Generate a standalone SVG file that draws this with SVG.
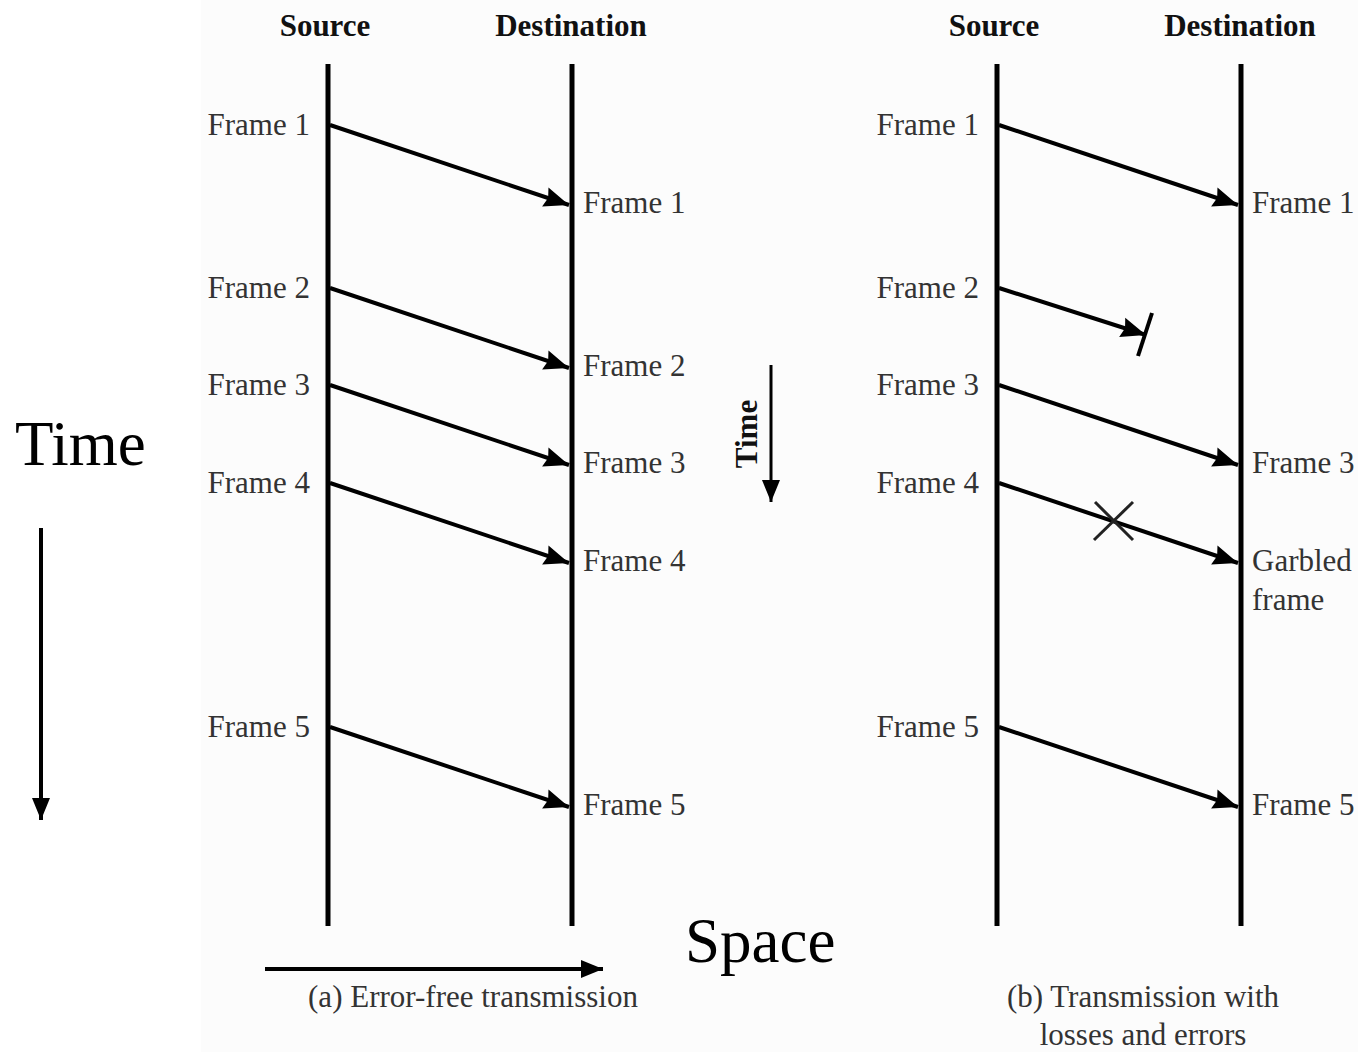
<svg xmlns="http://www.w3.org/2000/svg" width="1358" height="1052" viewBox="0 0 1358 1052">
<style>
.lbl{font-family:"Liberation Serif","Times New Roman",serif;font-size:31px;fill:#333}
.hdr{font-family:"Liberation Serif","Times New Roman",serif;font-size:31px;font-weight:bold;fill:#111}
.big{font-family:"Liberation Serif","Times New Roman",serif;font-size:63px;fill:#000}
.axis{stroke:#000;stroke-width:5;fill:none}
.arr{stroke:#000;stroke-width:4;fill:none;marker-end:url(#ah)}
</style>
<defs>
<marker id="ah" markerUnits="userSpaceOnUse" markerWidth="28" markerHeight="24" refX="25" refY="11" orient="auto">
<path d="M0,1 L25,11 L0,21 L3,11 z" fill="#000"/>
</marker>
<marker id="ah2" markerUnits="userSpaceOnUse" markerWidth="24" markerHeight="20" refX="22" refY="9" orient="auto">
<path d="M0,0 L22,9 L0,18 z" fill="#000"/>
</marker>
</defs>
<rect x="0" y="0" width="1358" height="1052" fill="#fff"/>
<rect x="201" y="0" width="1157" height="1052" fill="#fcfcfc"/>

<g id="left-panel">
<g id="src-a"><text class="hdr" x="325" y="36" text-anchor="middle">Source</text><line class="axis" x1="328" y1="64" x2="328" y2="926"/></g>
<g id="dst-a"><text class="hdr" x="571" y="36" text-anchor="middle">Destination</text><line class="axis" x1="572" y1="64" x2="572" y2="926"/></g>
<g id="src-labels-a">
<text class="lbl" x="310" y="135" text-anchor="end">Frame 1</text>
<text class="lbl" x="310" y="298" text-anchor="end">Frame 2</text>
<text class="lbl" x="310" y="395" text-anchor="end">Frame 3</text>
<text class="lbl" x="310" y="493" text-anchor="end">Frame 4</text>
<text class="lbl" x="310" y="737" text-anchor="end">Frame 5</text>
</g>
<g id="dst-labels-a">
<text class="lbl" x="583" y="213">Frame 1</text>
<text class="lbl" x="583" y="376">Frame 2</text>
<text class="lbl" x="583" y="473">Frame 3</text>
<text class="lbl" x="583" y="571">Frame 4</text>
<text class="lbl" x="583" y="815">Frame 5</text>
</g>
<text class="lbl" x="473" y="1007" text-anchor="middle">(a) Error-free transmission</text>
</g>

<g id="right-panel">
<g id="src-b"><text class="hdr" x="994" y="36" text-anchor="middle">Source</text><line class="axis" x1="997" y1="64" x2="997" y2="926"/></g>
<g id="dst-b"><text class="hdr" x="1240" y="36" text-anchor="middle">Destination</text><line class="axis" x1="1241" y1="64" x2="1241" y2="926"/></g>
<g id="src-labels-b">
<text class="lbl" x="979" y="135" text-anchor="end">Frame 1</text>
<text class="lbl" x="979" y="298" text-anchor="end">Frame 2</text>
<text class="lbl" x="979" y="395" text-anchor="end">Frame 3</text>
<text class="lbl" x="979" y="493" text-anchor="end">Frame 4</text>
<text class="lbl" x="979" y="737" text-anchor="end">Frame 5</text>
</g>
<g id="dst-labels-b">
<text class="lbl" x="1252" y="213">Frame 1</text>
<text class="lbl" x="1252" y="473">Frame 3</text>
<text class="lbl" x="1252" y="571">Garbled</text>
<text class="lbl" x="1252" y="610">frame</text>
<text class="lbl" x="1252" y="815">Frame 5</text>
</g>
<text class="lbl" x="1143" y="1007" text-anchor="middle">(b) Transmission with</text>
<text class="lbl" x="1143" y="1045" text-anchor="middle">losses and errors</text>
</g>

<g id="axes">
<text class="big" x="15" y="465">Time</text>
<text class="big" x="685" y="962">Space</text>
<g id="time-small"><text class="hdr" font-size="28" transform="translate(757,434) rotate(-90)" text-anchor="middle">Time</text></g>
</g>

<g id="connectors">
<line class="arr" x1="330" y1="125" x2="569" y2="205"/>
<line class="arr" x1="330" y1="288" x2="569" y2="368"/>
<line class="arr" x1="330" y1="385" x2="569" y2="465"/>
<line class="arr" x1="330" y1="483" x2="569" y2="563"/>
<line class="arr" x1="330" y1="727" x2="569" y2="807"/>

<line class="arr" x1="999" y1="125" x2="1238" y2="205"/>
<line class="arr" x1="999" y1="288" x2="1146" y2="335"/>
<line stroke="#000" stroke-width="4" x1="1152" y1="313" x2="1138" y2="356"/>
<line class="arr" x1="999" y1="385" x2="1238" y2="465"/>
<line class="arr" x1="999" y1="483" x2="1238" y2="563"/>
<line class="arr" x1="999" y1="727" x2="1238" y2="807"/>
<line stroke="#222" stroke-width="3" x1="1094" y1="540" x2="1133" y2="502"/>
<line stroke="#222" stroke-width="3" x1="1095" y1="502" x2="1133" y2="540"/>

<line stroke="#000" stroke-width="4" marker-end="url(#ah2)" x1="41" y1="528" x2="41" y2="820"/>
<line stroke="#000" stroke-width="4" marker-end="url(#ah2)" x1="265" y1="969" x2="603" y2="969"/>
<line stroke="#000" stroke-width="3" marker-end="url(#ah2)" x1="771" y1="365" x2="771" y2="502"/>
</g>
</svg>
